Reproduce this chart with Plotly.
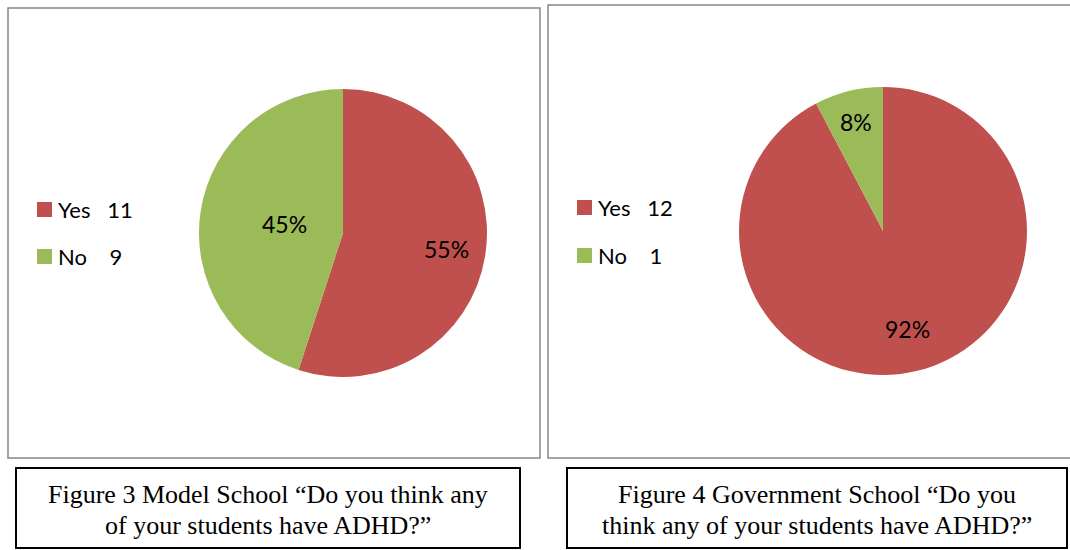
import math
import plotly.graph_objects as go

W, H = 1070, 550

# Survey answers per school
answers = ["Yes", "No"]
model_counts = [11, 9]
gov_counts = [12, 1]
slice_colors = ["#C0504D", "#9BBB59"]
captions = [
    ["Figure 3 Model School \u201cDo you think any", "of your students have ADHD?\u201d"],
    ["Figure 4 Government School \u201cDo you", "think any of your students have ADHD?\u201d"],
]


def px_x(x):
    return x / W


def px_y(y):
    return 1 - y / H


fig = go.Figure()

# (counts, pie centre px, radius px, radial position of each percent label)
pies = [
    (model_counts, (343, 233), 144, [0.73, 0.41]),
    (gov_counts, (883, 231), 144, [0.70, 0.78]),
]

annotations = []
for counts, (cx, cy), r, label_r in pies:
    fig.add_trace(go.Pie(
        labels=answers,
        values=counts,
        sort=False,
        direction="clockwise",
        rotation=0,
        marker=dict(colors=slice_colors, line=dict(width=0)),
        textinfo="none",
        showlegend=False,
        hoverinfo="label+value+percent",
        domain=dict(x=[px_x(cx - r), px_x(cx + r)], y=[px_y(cy + r), px_y(cy - r)]),
    ))
    # percent labels at the middle angle of each slice (clockwise from 12 o'clock)
    total = sum(counts)
    start = 0.0
    for n, fr in zip(counts, label_r):
        share = n / total
        mid = (start + share / 2) * 2 * math.pi
        start += share
        lx = cx + fr * r * math.sin(mid)
        ly = cy - fr * r * math.cos(mid)
        annotations.append(dict(
            x=px_x(lx), y=px_y(ly), xref="paper", yref="paper",
            xanchor="center", yanchor="middle", showarrow=False,
            text=f"{round(share * 100)}%",
            font=dict(family="Lato", size=23, color="black")))

shapes = []

# Chart panel frames
for x0, y0, x1, y1 in [(8, 8, 540, 458), (548, 5, 1075, 458)]:
    shapes.append(dict(type="rect", xref="paper", yref="paper",
                       x0=px_x(x0), x1=px_x(x1), y0=px_y(y1), y1=px_y(y0),
                       line=dict(color="#868686", width=1.5)))

# Legends beside each pie
legend_specs = [
    (model_counts, 37, [202, 249]),
    (gov_counts, 577, [200, 248]),
]
for counts, lx, tops in legend_specs:
    for label, n, col, top in zip(answers, counts, slice_colors, tops):
        shapes.append(dict(type="rect", xref="paper", yref="paper",
                           x0=px_x(lx), x1=px_x(lx + 15),
                           y0=px_y(top + 15), y1=px_y(top),
                           fillcolor=col, line=dict(width=0)))
        pad = "\u00a0" * (3 if n >= 10 else 4)
        annotations.append(dict(
            x=px_x(lx + 19), y=px_y(top + 7.5), xref="paper", yref="paper",
            xanchor="left", yanchor="middle", showarrow=False,
            text=f"{label}{pad}{n}",
            font=dict(family="Lato", size=22, color="black")))

# Caption boxes under the charts
for (x0, x1), lines in zip([(16, 520), (567, 1067)], captions):
    shapes.append(dict(type="rect", xref="paper", yref="paper",
                       x0=px_x(x0), x1=px_x(x1), y0=px_y(548), y1=px_y(468),
                       line=dict(color="black", width=2)))
    for i, line in enumerate(lines):
        annotations.append(dict(
            x=px_x((x0 + x1) / 2), y=px_y(494 + 31 * i), xref="paper", yref="paper",
            xanchor="center", yanchor="middle", showarrow=False,
            text=line,
            font=dict(family="Liberation Serif", size=26, color="black")))

fig.update_layout(
    width=W, height=H,
    margin=dict(l=0, r=0, t=0, b=0),
    paper_bgcolor="white",
    plot_bgcolor="white",
    shapes=shapes,
    annotations=annotations,
)

fig.write_html("out.html")
